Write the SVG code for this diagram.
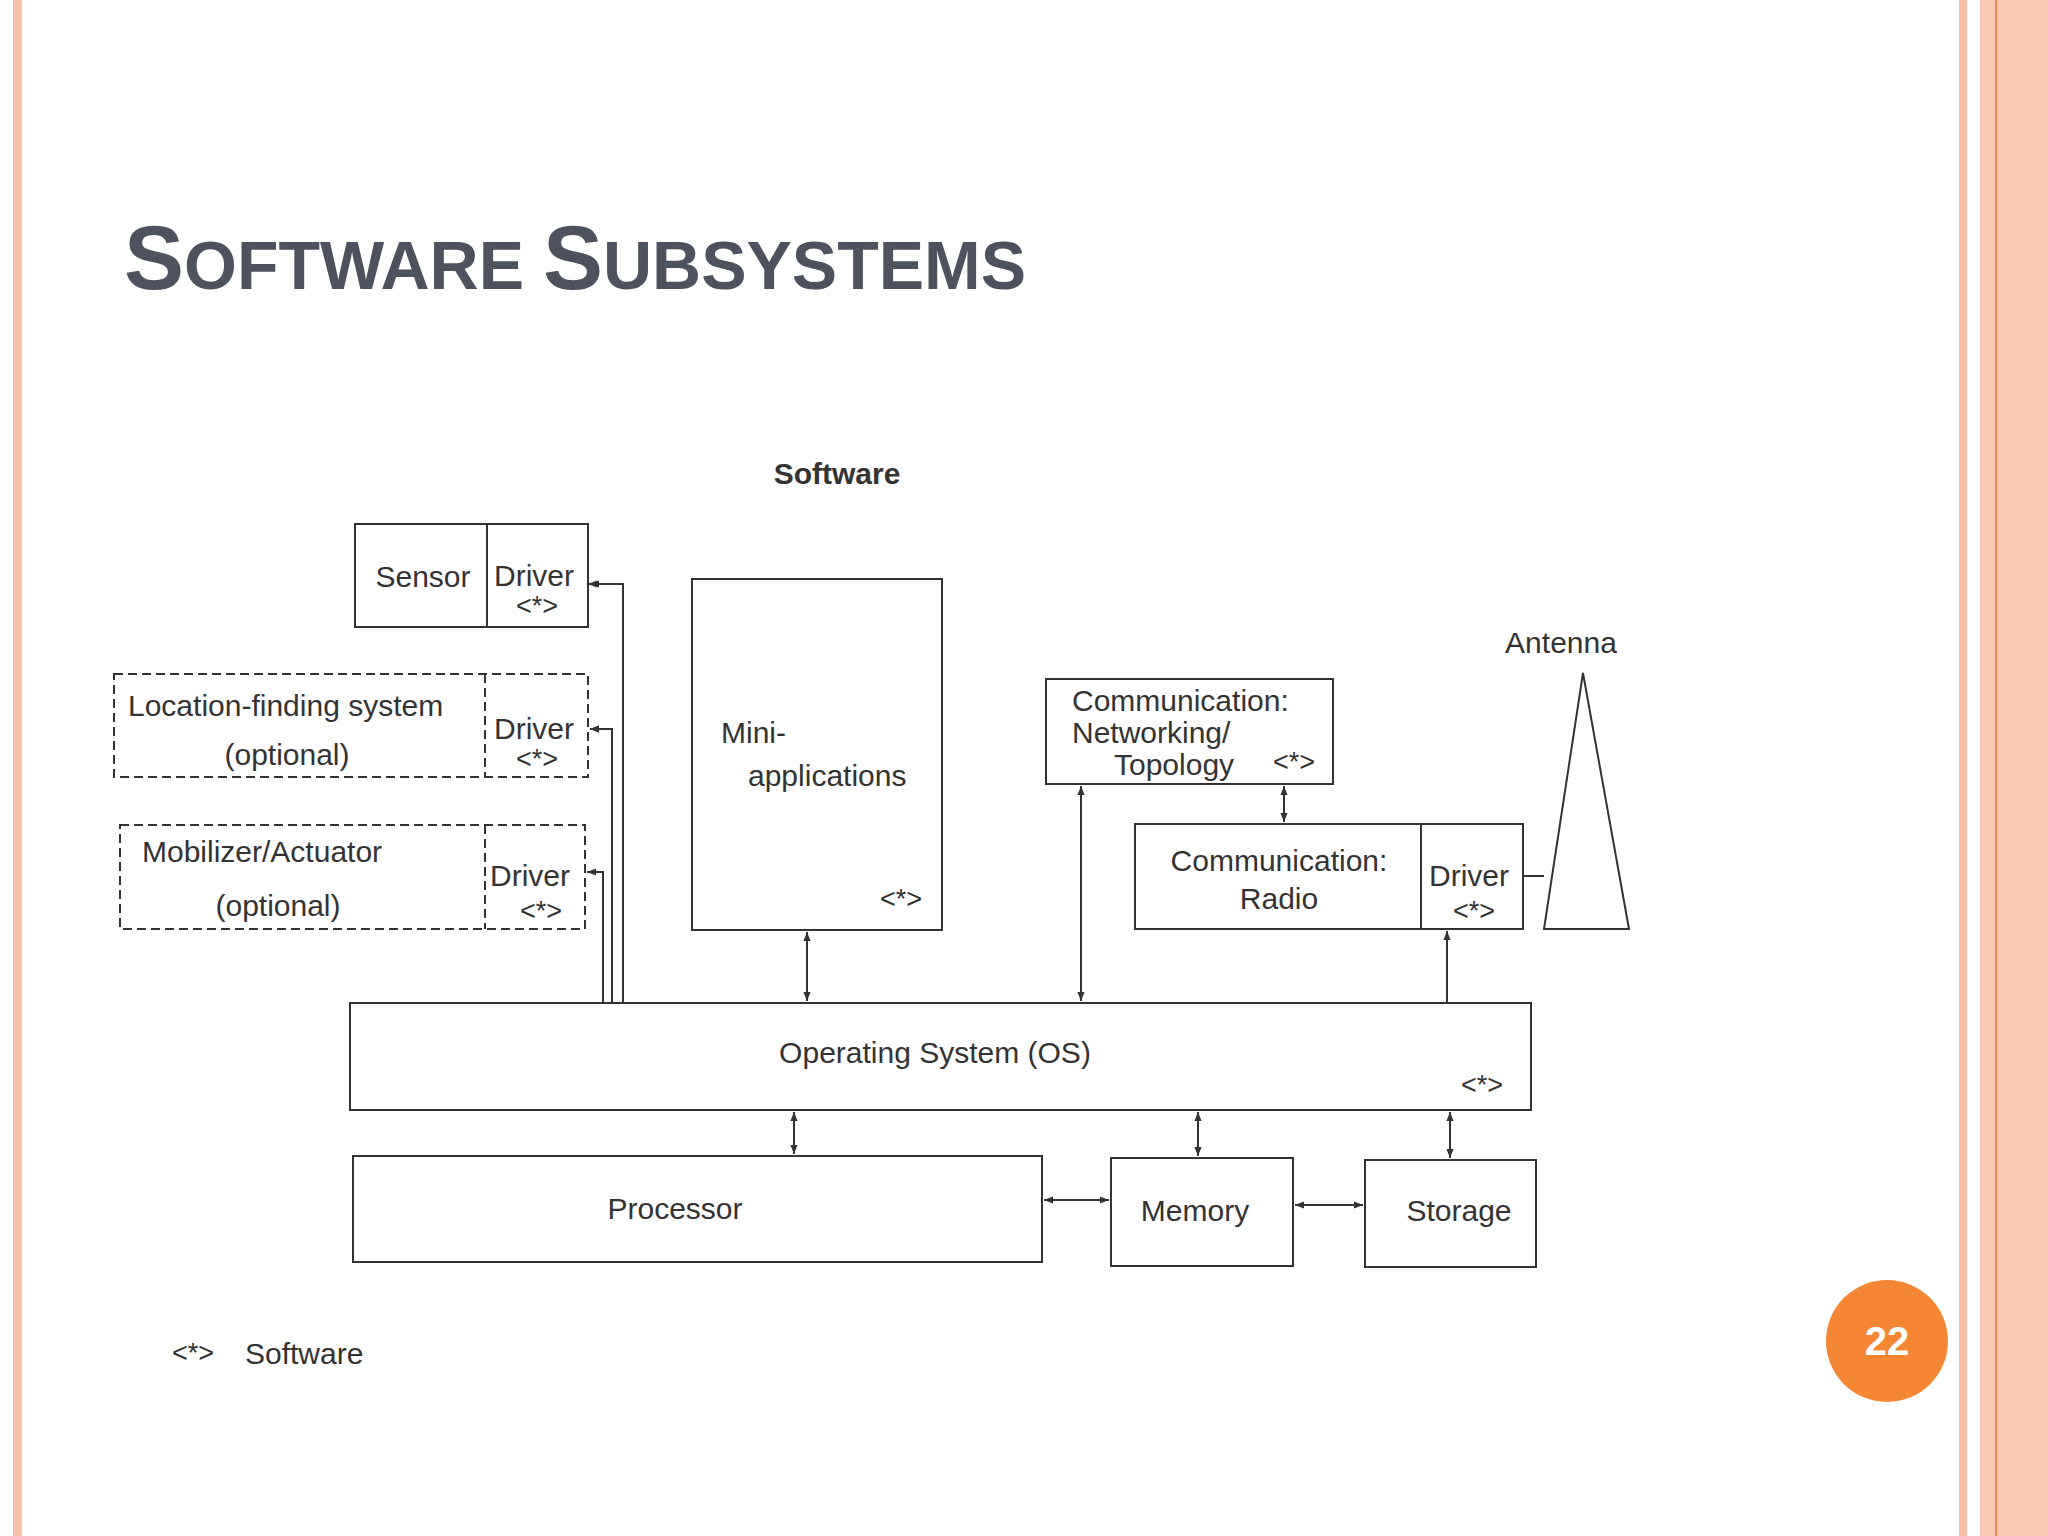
<svg xmlns="http://www.w3.org/2000/svg" width="2048" height="1536" viewBox="0 0 2048 1536">
<style>
.b{fill:#fff;stroke:#333;stroke-width:2}
.d{fill:none;stroke:#333;stroke-width:2;stroke-dasharray:9,5}
.t{font-family:"Liberation Sans",Arial,sans-serif;font-size:30px;fill:#333}
.s{font-family:"Liberation Sans",Arial,sans-serif;font-size:27px;fill:#333}
.c{stroke:#333;stroke-width:2;fill:none}
.m{text-anchor:middle}
</style>
<defs>
<marker id="a" viewBox="0 0 10 10" refX="10" refY="5" markerWidth="12" markerHeight="9" markerUnits="userSpaceOnUse" orient="auto-start-reverse"><path d="M0,1 L10,5 L0,9 z" fill="#333"/></marker>
</defs>
<rect width="2048" height="1536" fill="#fff"/>
<rect x="13" y="0" width="9" height="1536" fill="#f8c0a8"/>
<rect x="1959" y="0" width="8" height="1536" fill="#f8c0a8"/>
<rect x="1980" y="0" width="68" height="1536" fill="#f9c9b3"/>
<rect x="1995" y="0" width="2" height="1536" fill="#ec8a50"/>
<text x="124" y="289" font-family="Liberation Sans,Arial,sans-serif" font-weight="bold" fill="#4d525e" font-size="90">S<tspan font-size="68">OFTWARE </tspan>S<tspan font-size="68">UBSYSTEMS</tspan></text>
<text x="837" y="484" class="t m" font-weight="bold" font-size="29">Software</text>

<g id="connectors">
<path class="c" d="M623,1003 V584 H590" marker-end="url(#a)"/>
<path class="c" d="M612,1003 V729 H590" marker-end="url(#a)"/>
<path class="c" d="M603,1003 V872 H587" marker-end="url(#a)"/>
<line class="c" x1="588" y1="584" x2="608" y2="584" marker-start="url(#a)"/>
<line class="c" x1="590" y1="729" x2="604" y2="729" marker-start="url(#a)"/>
<line class="c" x1="807" y1="932" x2="807" y2="1001" marker-start="url(#a)" marker-end="url(#a)"/>
<line class="c" x1="1081" y1="786" x2="1081" y2="1001" marker-start="url(#a)" marker-end="url(#a)"/>
<line class="c" x1="1284" y1="786" x2="1284" y2="822" marker-start="url(#a)" marker-end="url(#a)"/>
<line class="c" x1="1447" y1="1003" x2="1447" y2="931" marker-end="url(#a)"/>
<line class="c" x1="794" y1="1112" x2="794" y2="1154" marker-start="url(#a)" marker-end="url(#a)"/>
<line class="c" x1="1198" y1="1112" x2="1198" y2="1156" marker-start="url(#a)" marker-end="url(#a)"/>
<line class="c" x1="1450" y1="1112" x2="1450" y2="1158" marker-start="url(#a)" marker-end="url(#a)"/>
<line class="c" x1="1044" y1="1200" x2="1109" y2="1200" marker-start="url(#a)" marker-end="url(#a)"/>
<line class="c" x1="1295" y1="1205" x2="1363" y2="1205" marker-start="url(#a)" marker-end="url(#a)"/>
<line class="c" x1="1523" y1="876" x2="1544" y2="876"/>
</g>

<g id="sensor"><rect class="b" x="355" y="524" width="233" height="103"/><line class="c" x1="487" y1="524" x2="487" y2="627"/>
<text class="t m" x="423" y="587">Sensor</text><text class="t m" x="534" y="586">Driver</text><text class="s m" x="537" y="615">&lt;*&gt;</text></g>
<g id="location"><rect class="d" x="114" y="674" width="474" height="103"/><line class="d" x1="485" y1="674" x2="485" y2="777"/>
<text class="t" x="128" y="716">Location-finding system</text><text class="t m" x="287" y="765">(optional)</text>
<text class="t m" x="534" y="739">Driver</text><text class="s m" x="537" y="768">&lt;*&gt;</text></g>
<g id="mobilizer"><rect class="d" x="120" y="825" width="465" height="104"/><line class="d" x1="485" y1="825" x2="485" y2="929"/>
<text class="t" x="142" y="862">Mobilizer/Actuator</text><text class="t m" x="278" y="916">(optional)</text>
<text class="t m" x="530" y="886">Driver</text><text class="s m" x="541" y="920">&lt;*&gt;</text></g>
<g id="mini"><rect class="b" x="692" y="579" width="250" height="351"/>
<text class="t" x="721" y="743">Mini-</text><text class="t" x="748" y="786">applications</text><text class="s m" x="901" y="908">&lt;*&gt;</text></g>
<g id="commnet"><rect class="b" x="1046" y="679" width="287" height="105"/>
<text class="t" x="1072" y="711">Communication:</text><text class="t" x="1072" y="743">Networking/</text><text class="t" x="1114" y="775">Topology</text><text class="s m" x="1294" y="771">&lt;*&gt;</text></g>
<g id="radio"><rect class="b" x="1135" y="824" width="388" height="105"/><line class="c" x1="1421" y1="824" x2="1421" y2="929"/>
<text class="t m" x="1279" y="871">Communication:</text><text class="t m" x="1279" y="909">Radio</text>
<text class="t m" x="1469" y="886">Driver</text><text class="s m" x="1474" y="920">&lt;*&gt;</text></g>
<g id="antenna"><polygon class="b" points="1583,673 1544,929 1629,929"/><text class="t m" x="1561" y="653">Antenna</text></g>
<g id="os"><rect class="b" x="350" y="1003" width="1181" height="107"/>
<text class="t m" x="935" y="1063">Operating System (OS)</text><text class="s m" x="1482" y="1094">&lt;*&gt;</text></g>
<g id="processor"><rect class="b" x="353" y="1156" width="689" height="106"/><text class="t m" x="675" y="1219">Processor</text></g>
<g id="memory"><rect class="b" x="1111" y="1158" width="182" height="108"/><text class="t m" x="1195" y="1221">Memory</text></g>
<g id="storage"><rect class="b" x="1365" y="1160" width="171" height="107"/><text class="t m" x="1459" y="1221">Storage</text></g>
<g id="legend"><text class="s m" x="193" y="1362">&lt;*&gt;</text><text class="t" x="245" y="1364">Software</text></g>
<g id="page"><circle cx="1887" cy="1341" r="61" fill="#f58634"/><text x="1887" y="1355" text-anchor="middle" font-family="Liberation Sans,Arial,sans-serif" font-weight="bold" font-size="40" fill="#fff">22</text></g>
</svg>
